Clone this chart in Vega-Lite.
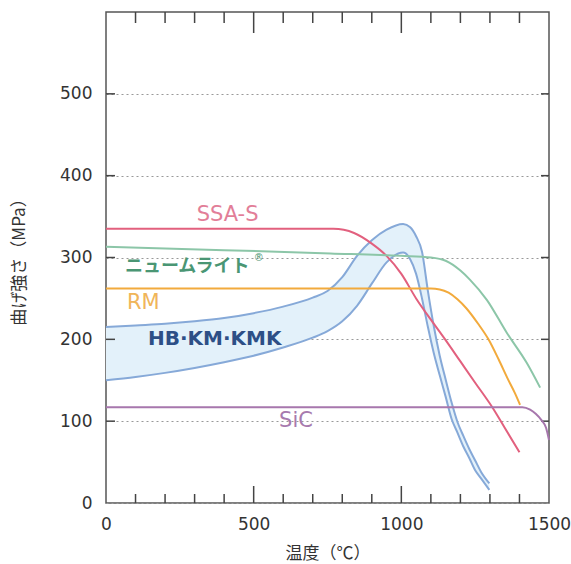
{
  "$schema": "https://vega.github.io/schema/vega-lite/v6.json",
  "width": 443,
  "height": 491,
  "autosize": {"type": "none"},
  "padding": {"left": 106, "top": 12, "right": 22, "bottom": 61},
  "background": "white",
  "config": {
    "view": {"stroke": "#555", "strokeWidth": 1.5},
    "font": "DejaVu Sans",
    "axis": {
      "domain": false,
      "ticks": false,
      "labelFont": "DejaVu Sans",
      "labelColor": "#333",
      "titleFont": "Noto Sans CJK JP",
      "titleColor": "#333",
      "titleFontWeight": "normal",
      "grid": false
    }
  },
  "datasets": {
    "xMajor": [{"t": 500}, {"t": 1000}],
    "xMinor": [{"t": 100}, {"t": 200}, {"t": 300}, {"t": 400}, {"t": 600}, {"t": 700}, {"t": 800}, {"t": 900}, {"t": 1100}, {"t": 1200}, {"t": 1300}, {"t": 1400}],
    "yTicks": [{"t": 100}, {"t": 200}, {"t": 300}, {"t": 400}, {"t": 500}],
    "band": [
      {"x": 0, "lo": 150, "hi": 215},
      {"x": 100, "lo": 154, "hi": 217},
      {"x": 200, "lo": 159, "hi": 219},
      {"x": 300, "lo": 165, "hi": 222},
      {"x": 400, "lo": 172, "hi": 226},
      {"x": 500, "lo": 180, "hi": 232},
      {"x": 600, "lo": 190, "hi": 240},
      {"x": 700, "lo": 202, "hi": 251},
      {"x": 750, "lo": 210, "hi": 259},
      {"x": 800, "lo": 222, "hi": 276},
      {"x": 850, "lo": 241, "hi": 302},
      {"x": 900, "lo": 268, "hi": 321},
      {"x": 950, "lo": 294, "hi": 334},
      {"x": 1006, "lo": 306, "hi": 341},
      {"x": 1030, "lo": 298, "hi": 337},
      {"x": 1050, "lo": 280, "hi": 326},
      {"x": 1070, "lo": 250, "hi": 307},
      {"x": 1090, "lo": 215, "hi": 259},
      {"x": 1110, "lo": 183, "hi": 216},
      {"x": 1130, "lo": 156, "hi": 180},
      {"x": 1150, "lo": 130, "hi": 151},
      {"x": 1170, "lo": 103, "hi": 123},
      {"x": 1190, "lo": 86, "hi": 99},
      {"x": 1210, "lo": 69, "hi": 82},
      {"x": 1230, "lo": 55, "hi": 66},
      {"x": 1250, "lo": 40, "hi": 52},
      {"x": 1270, "lo": 30, "hi": 38},
      {"x": 1298, "lo": 16, "hi": 24}
    ],
    "curves": [
      {"series": "SSA-S", "x": 0, "y": 335},
      {"series": "SSA-S", "x": 770, "y": 335},
      {"series": "SSA-S", "x": 840, "y": 330},
      {"series": "SSA-S", "x": 900, "y": 317},
      {"series": "SSA-S", "x": 950, "y": 302},
      {"series": "SSA-S", "x": 1000, "y": 280},
      {"series": "SSA-S", "x": 1050, "y": 250},
      {"series": "SSA-S", "x": 1100, "y": 224},
      {"series": "SSA-S", "x": 1150, "y": 199},
      {"series": "SSA-S", "x": 1200, "y": 173},
      {"series": "SSA-S", "x": 1250, "y": 147},
      {"series": "SSA-S", "x": 1308, "y": 117},
      {"series": "SSA-S", "x": 1350, "y": 92},
      {"series": "SSA-S", "x": 1400, "y": 62},
      {"series": "Newmulite", "x": 0, "y": 313},
      {"series": "Newmulite", "x": 400, "y": 309},
      {"series": "Newmulite", "x": 760, "y": 305},
      {"series": "Newmulite", "x": 1000, "y": 302},
      {"series": "Newmulite", "x": 1100, "y": 300},
      {"series": "Newmulite", "x": 1150, "y": 296},
      {"series": "Newmulite", "x": 1175, "y": 291},
      {"series": "Newmulite", "x": 1200, "y": 284},
      {"series": "Newmulite", "x": 1232, "y": 273},
      {"series": "Newmulite", "x": 1290, "y": 248},
      {"series": "Newmulite", "x": 1357, "y": 208},
      {"series": "Newmulite", "x": 1425, "y": 171},
      {"series": "Newmulite", "x": 1470, "y": 141},
      {"series": "RM", "x": 0, "y": 262},
      {"series": "RM", "x": 1100, "y": 262},
      {"series": "RM", "x": 1130, "y": 261},
      {"series": "RM", "x": 1160, "y": 257},
      {"series": "RM", "x": 1190, "y": 249},
      {"series": "RM", "x": 1220, "y": 238},
      {"series": "RM", "x": 1260, "y": 219},
      {"series": "RM", "x": 1295, "y": 200},
      {"series": "RM", "x": 1330, "y": 175},
      {"series": "RM", "x": 1360, "y": 152},
      {"series": "RM", "x": 1385, "y": 134},
      {"series": "RM", "x": 1402, "y": 120},
      {"series": "SiC", "x": 0, "y": 117},
      {"series": "SiC", "x": 1410, "y": 117},
      {"series": "SiC", "x": 1436, "y": 114},
      {"series": "SiC", "x": 1455, "y": 109},
      {"series": "SiC", "x": 1475, "y": 101},
      {"series": "SiC", "x": 1490, "y": 92},
      {"series": "SiC", "x": 1500, "y": 77}
    ]
  },
  "layer": [
    {
      "data": {"name": "band"},
      "mark": {"type": "area", "interpolate": "monotone", "color": "#e3f1fa"},
      "encoding": {
        "x": {"field": "x", "type": "quantitative", "scale": {"domain": [0, 1500], "nice": false, "zero": false},
          "axis": {"orient": "bottom", "values": [0, 500, 1000, 1500], "format": "d", "labelPadding": 13, "labelFontSize": 17, "labelFlush": false, "grid": false, "title": "温度（℃）", "titleFontSize": 17, "titlePadding": 13}},
        "y": {"field": "hi", "type": "quantitative", "scale": {"domain": [0, 600], "nice": false, "zero": false},
          "axis": {"orient": "left", "values": [0, 100, 200, 300, 400, 500], "labelPadding": 14, "labelFontSize": 17, "grid": true, "gridDash": [2, 3], "gridColor": "#999", "gridWidth": 1, "title": "曲げ強さ（MPa）", "titleFontSize": 17, "titlePadding": 31}},
        "y2": {"field": "lo"}
      }
    },
    {
      "data": {"name": "xMajor"},
      "mark": {"type": "tick", "orient": "vertical", "size": 34, "thickness": 1.5, "color": "#444", "opacity": 1, "clip": true},
      "encoding": {"x": {"field": "t", "type": "quantitative"}, "y": {"datum": 0, "type": "quantitative"}}
    },
    {
      "data": {"name": "xMinor"},
      "mark": {"type": "tick", "orient": "vertical", "size": 18, "thickness": 1.5, "color": "#444", "opacity": 1, "clip": true},
      "encoding": {"x": {"field": "t", "type": "quantitative"}, "y": {"datum": 0, "type": "quantitative"}}
    },
    {
      "data": {"name": "xMajor"},
      "mark": {"type": "tick", "orient": "vertical", "size": 42, "thickness": 1.5, "color": "#444", "opacity": 1, "clip": true},
      "encoding": {"x": {"field": "t", "type": "quantitative"}, "y": {"datum": 600, "type": "quantitative"}}
    },
    {
      "data": {"name": "xMinor"},
      "mark": {"type": "tick", "orient": "vertical", "size": 22, "thickness": 1.5, "color": "#444", "opacity": 1, "clip": true},
      "encoding": {"x": {"field": "t", "type": "quantitative"}, "y": {"datum": 600, "type": "quantitative"}}
    },
    {
      "data": {"name": "yTicks"},
      "mark": {"type": "tick", "orient": "horizontal", "size": 18, "thickness": 1.5, "color": "#444", "opacity": 1, "clip": true},
      "encoding": {"y": {"field": "t", "type": "quantitative"}, "x": {"datum": 0, "type": "quantitative"}}
    },
    {
      "data": {"name": "yTicks"},
      "mark": {"type": "tick", "orient": "horizontal", "size": 16, "thickness": 1.5, "color": "#444", "opacity": 1, "clip": true},
      "encoding": {"y": {"field": "t", "type": "quantitative"}, "x": {"datum": 1500, "type": "quantitative"}}
    },
    {
      "data": {"name": "band"},
      "mark": {"type": "line", "interpolate": "monotone", "color": "#86a9d8", "strokeWidth": 2},
      "encoding": {"x": {"field": "x", "type": "quantitative"}, "y": {"field": "hi", "type": "quantitative"}}
    },
    {
      "data": {"name": "band"},
      "mark": {"type": "line", "interpolate": "monotone", "color": "#86a9d8", "strokeWidth": 2},
      "encoding": {"x": {"field": "x", "type": "quantitative"}, "y": {"field": "lo", "type": "quantitative"}}
    },
    {
      "data": {"name": "curves"},
      "mark": {"type": "line", "interpolate": "monotone", "strokeWidth": 2},
      "encoding": {
        "x": {"field": "x", "type": "quantitative"},
        "y": {"field": "y", "type": "quantitative"},
        "color": {"field": "series", "type": "nominal", "legend": null,
          "scale": {"domain": ["SSA-S", "Newmulite", "RM", "SiC"], "range": ["#e2607e", "#8cc6a8", "#f2aa3c", "#a777ad"]}}
      }
    },
    {
      "data": {"values": [{"label": "SSA-S", "x": 307, "y": 352}]},
      "mark": {"type": "text", "align": "left", "baseline": "middle", "fontSize": 21, "color": "#e27e98", "font": "DejaVu Sans"},
      "encoding": {"x": {"field": "x", "type": "quantitative"}, "y": {"field": "y", "type": "quantitative"}, "text": {"field": "label"}}
    },
    {
      "data": {"values": [{"label": "ニュームライト", "x": 64, "y": 289}]},
      "mark": {"type": "text", "align": "left", "baseline": "middle", "fontSize": 18, "color": "#4a9674", "font": "Noto Sans CJK JP", "fontWeight": "bold"},
      "encoding": {"x": {"field": "x", "type": "quantitative"}, "y": {"field": "y", "type": "quantitative"}, "text": {"field": "label"}}
    },
    {
      "data": {"values": [{"label": "®", "x": 500, "y": 300}]},
      "mark": {"type": "text", "align": "left", "baseline": "middle", "fontSize": 10, "color": "#4a9674", "font": "DejaVu Sans"},
      "encoding": {"x": {"field": "x", "type": "quantitative"}, "y": {"field": "y", "type": "quantitative"}, "text": {"field": "label"}}
    },
    {
      "data": {"values": [{"label": "RM", "x": 71, "y": 245}]},
      "mark": {"type": "text", "align": "left", "baseline": "middle", "fontSize": 21, "color": "#f0b55a", "font": "DejaVu Sans"},
      "encoding": {"x": {"field": "x", "type": "quantitative"}, "y": {"field": "y", "type": "quantitative"}, "text": {"field": "label"}}
    },
    {
      "data": {"values": [{"label": "HB·KM·KMK", "x": 142, "y": 201}]},
      "mark": {"type": "text", "align": "left", "baseline": "middle", "fontSize": 20, "color": "#2d4f86", "font": "DejaVu Sans", "fontWeight": "bold"},
      "encoding": {"x": {"field": "x", "type": "quantitative"}, "y": {"field": "y", "type": "quantitative"}, "text": {"field": "label"}}
    },
    {
      "data": {"values": [{"label": "SiC", "x": 586, "y": 100}]},
      "mark": {"type": "text", "align": "left", "baseline": "middle", "fontSize": 21, "color": "#a77aae", "font": "DejaVu Sans"},
      "encoding": {"x": {"field": "x", "type": "quantitative"}, "y": {"field": "y", "type": "quantitative"}, "text": {"field": "label"}}
    }
  ]
}
